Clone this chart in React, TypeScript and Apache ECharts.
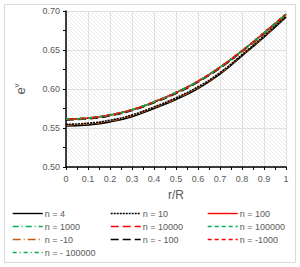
import React, { useEffect, useRef } from "react";
import * as echarts from "echarts";

const rValues = [0, 0.1, 0.2, 0.3, 0.4, 0.5, 0.6, 0.7, 0.8, 0.9, 1];
const xTickLabels = ["0", "0.1", "0.2", "0.3", "0.4", "0.5", "0.6", "0.7", "0.8", "0.9", "1"];
const yTickLabels = ["0.50", "0.55", "0.60", "0.65", "0.70"];

const n4 = [0.5526, 0.554, 0.5578, 0.5645, 0.575, 0.5865, 0.6005, 0.619, 0.6425, 0.6665, 0.692];
const n10 = [0.5548, 0.5561, 0.56, 0.5667, 0.577, 0.5887, 0.6028, 0.621, 0.644, 0.668, 0.6932];
const n100 = [0.5612, 0.5625, 0.5665, 0.5732, 0.5832, 0.5952, 0.6097, 0.6277, 0.6487, 0.6718, 0.6958];
const n1000 = [0.5614, 0.5627, 0.5667, 0.5734, 0.5834, 0.5954, 0.6099, 0.6279, 0.6489, 0.672, 0.696];
const n10000 = [0.5615, 0.5628, 0.5668, 0.5735, 0.5835, 0.5955, 0.61, 0.628, 0.649, 0.672, 0.696];
const n100000 = [0.5615, 0.5628, 0.5668, 0.5735, 0.5835, 0.5955, 0.61, 0.628, 0.649, 0.672, 0.696];
const nm10 = [0.554, 0.5553, 0.5592, 0.5659, 0.5762, 0.5879, 0.602, 0.6203, 0.6434, 0.6675, 0.693];
const nm100 = [0.5604, 0.5617, 0.5657, 0.5724, 0.5824, 0.5943, 0.6088, 0.6268, 0.648, 0.6711, 0.6955];
const nm1000 = [0.5616, 0.5629, 0.5669, 0.5736, 0.5836, 0.5956, 0.6101, 0.6281, 0.6491, 0.6721, 0.6961];
const nm100000 = [0.5615, 0.5628, 0.5668, 0.5735, 0.5835, 0.5955, 0.61, 0.628, 0.649, 0.672, 0.696];

const seriesNames = [
  "n = 4", "n = 10", "n = 100",
  "n = 1000", "n = 10000", "n = 100000",
  "n = -10", "n = - 100", "n = -1000",
  "n = - 100000",
];
const seriesData = [n4, n10, n100, n1000, n10000, n100000, nm10, nm100, nm1000, nm100000];
const seriesColors = [
  "#000000", "#000000", "#ff0000",
  "#00b050", "#ff0000", "#00b050",
  "#c55a11", "#000000", "#ff0000",
  "#00b050",
];
const seriesDash: any[] = [
  "solid", [2, 1], "solid",
  [6, 3, 1, 3], [8, 4], [4, 3],
  [8, 3, 1, 3], [8, 4], [4, 3],
  [4, 3, 1, 3],
];
const drawOrder = [0, 6, 1, 7, 2, 3, 4, 5, 8, 9];

const hatch =
  "data:image/svg+xml;charset=utf-8," +
  encodeURIComponent(
    '<svg xmlns="http://www.w3.org/2000/svg" width="4" height="4"><rect width="4" height="4" fill="#ffffff"/><path d="M-1,-1 L5,5 M-1,3 L1,5 M3,-1 L5,1" stroke="#ebebeb" stroke-width="1"/></svg>'
  );

export default function App() {
  const ref = useRef<HTMLDivElement>(null);
  useEffect(() => {
    if (!ref.current) return;
    const chart = echarts.init(ref.current, undefined, { renderer: "svg" });
    const font = "Liberation Sans";
    const txt = "#595959";
    const columns = [
      [0, 3, 6, 9],
      [1, 4, 7],
      [2, 5, 8],
    ];
    const colLeft = [12, 110, 207];
    const legends = columns.map((col, i) => ({
      orient: "vertical",
      left: colLeft[i],
      top: 209,
      itemWidth: 30,
      itemHeight: 10,
      itemGap: 4,
      padding: 0,
      itemStyle: { opacity: 0 },
      lineStyle: { width: 1.4 },
      data: col.map((k) => seriesNames[k]),
      textStyle: { color: txt, fontSize: 9, fontFamily: font, padding: [0, 0, 0, -3] },
    }));
    const series = drawOrder.map((k) => ({
      name: seriesNames[k],
      type: "line",
      smooth: true,
      symbol: "none",
      data: rValues.map((r, j) => [r, seriesData[k][j]]),
      lineStyle: { color: seriesColors[k], width: 1.6, type: seriesDash[k] },
      itemStyle: { color: seriesColors[k] },
    }));
    chart.setOption({
      animation: false,
      graphic: [
        {
          type: "rect",
          shape: { x: 4.5, y: 4.5, width: 291, height: 258 },
          style: { fill: "none", stroke: "#d9d9d9", lineWidth: 1 },
          silent: true,
        },
      ],
      grid: {
        left: 66,
        right: 14,
        top: 11,
        bottom: 100,
        show: true,
        borderWidth: 0,
        backgroundColor: { image: hatch, repeat: "repeat" },
      },
      legend: legends,
      xAxis: {
        type: "value",
        min: 0,
        max: 1,
        interval: 0.1,
        name: "r/R",
        nameLocation: "middle",
        nameGap: 22,
        nameTextStyle: { color: txt, fontSize: 12, fontFamily: font },
        axisLine: { show: true, onZero: false, lineStyle: { color: "#000", width: 1.5 } },
        axisTick: { show: true, length: 3, lineStyle: { color: "#000" } },
        minorTick: { show: true, splitNumber: 2, length: 3, lineStyle: { color: "#000" } },
        splitLine: { show: true, lineStyle: { color: "#e0e0e0", width: 1 } },
        axisLabel: {
          color: txt,
          fontSize: 9,
          fontFamily: font,
          margin: 7,
          formatter: (v: number) => xTickLabels[Math.round(v * 10)] ?? "",
        },
      },
      yAxis: {
        type: "value",
        min: 0.5,
        max: 0.7,
        interval: 0.05,
        name: "{e|e}{s|ν}",
        nameLocation: "middle",
        nameRotate: 90,
        nameGap: 38,
        nameTextStyle: {
          rich: {
            e: { color: txt, fontSize: 13, fontFamily: font },
            s: { color: txt, fontSize: 8, fontFamily: font, padding: [0, 0, 8, 0] },
          },
        },
        axisLine: { show: true, lineStyle: { color: "#000", width: 1.5 } },
        axisTick: { show: true, length: 3, lineStyle: { color: "#000" } },
        minorTick: { show: true, splitNumber: 2, length: 3, lineStyle: { color: "#000" } },
        splitLine: { show: true, lineStyle: { color: "#e0e0e0", width: 1 } },
        axisLabel: {
          color: txt,
          fontSize: 9,
          fontFamily: font,
          margin: 6,
          formatter: (v: number) => yTickLabels[Math.round((v - 0.5) / 0.05)] ?? "",
        },
      },
      series,
    });
    return () => chart.dispose();
  }, []);
  return (
    <div
      ref={ref}
      style={{ position: "fixed", left: 0, top: 0, width: 300, height: 267, background: "#fff" }}
    />
  );
}
